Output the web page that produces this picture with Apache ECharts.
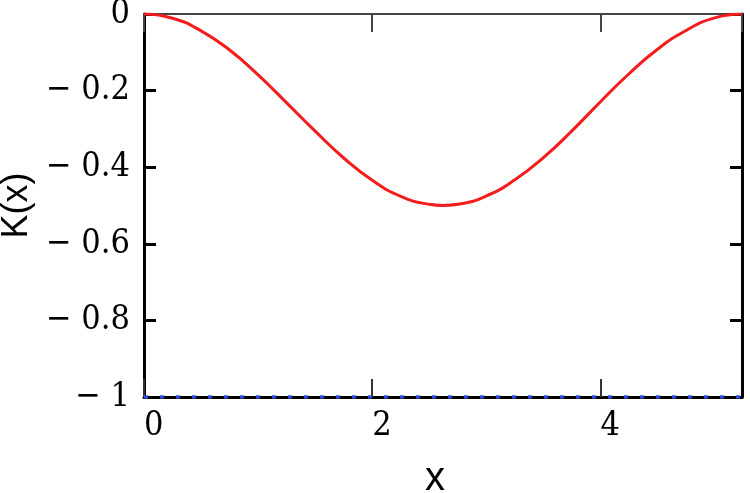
<!DOCTYPE html>
<html>
<head>
<meta charset="utf-8">
<script src="https://cdn.jsdelivr.net/npm/echarts@6/dist/echarts.min.js"></script>
<style>
  html, body { margin: 0; padding: 0; background: #fff; }
  #chart { width: 750px; height: 493px; }
</style>
</head>
<body>
<div id="chart"></div>
<script>
// K(x) curve
var xs = [0, 0.25, 0.5, 0.75, 1.0, 1.25, 1.5, 1.75, 2.0, 2.25, 2.5, 2.62, 2.75, 3.0, 3.25, 3.5, 3.75, 4.0, 4.25, 4.5, 4.75, 5.0, 5.24];
var ks = [0, -0.011, -0.044, -0.094, -0.159, -0.232, -0.306, -0.376, -0.434, -0.476, -0.497, -0.5, -0.497, -0.475, -0.433, -0.375, -0.305, -0.229, -0.156, -0.092, -0.043, -0.010, 0];
// lower bound line
var baseX = [0, 5.24];
var baseY = [-1, -1];
var xTicks = [0, 2, 4];

var curve = xs.map(function (x, i) { return [x, ks[i]]; });
var base = baseX.map(function (x, i) { return [x, baseY[i]]; });

var myChart = echarts.init(document.getElementById("chart"), null, { renderer: "canvas" });
var serif = "'DejaVu Serif Condensed', 'DejaVu Serif', serif";
var option = {
  animation: false,
  backgroundColor: "#fff",
  grid: { left: 144, right: 8, top: 14, bottom: 96, outerBoundsMode: "none", containLabel: false },
  xAxis: [
    {
      type: "value",
      min: 0,
      max: 5.24,
      interval: 2,
      position: "bottom",
      name: "x",
      nameLocation: "middle",
      nameGap: 62,
      nameTextStyle: { fontFamily: "Liberation Sans", fontSize: 40, color: "#000", padding: [0, 16, 0, 0] },
      axisLine: { show: true, onZero: false, lineStyle: { color: "#000", width: 3 } },
      axisTick: { show: true, inside: true, length: 18, lineStyle: { color: "#333", width: 2 } },
      axisLabel: {
        showMaxLabel: false,
        align: "left",
        margin: 12,
        fontFamily: serif,
        fontSize: 34,
        color: "#000",
        formatter: function (v) { return xTicks.indexOf(v) >= 0 ? String(v) : ""; }
      },
      splitLine: { show: false }
    },
    {
      type: "value",
      min: 0,
      max: 5.24,
      interval: 2,
      position: "top",
      axisLine: { show: true, onZero: false, lineStyle: { color: "#444", width: 2 } },
      axisTick: { show: true, inside: true, length: 18, lineStyle: { color: "#444", width: 2 } },
      axisLabel: { show: false },
      splitLine: { show: false }
    }
  ],
  yAxis: [
    {
      type: "value",
      min: -1,
      max: 0,
      interval: 0.2,
      position: "left",
      name: "K(x)",
      nameLocation: "middle",
      nameGap: 101,
      nameRotate: 90,
      nameTextStyle: { fontFamily: "Liberation Sans", fontSize: 36, color: "#000" },
      axisLine: { show: true, onZero: false, lineStyle: { color: "#000", width: 3 } },
      axisTick: { show: true, inside: true, length: 12, lineStyle: { color: "#000", width: 3 } },
      axisLabel: {
        margin: 14,
        padding: [8, 0, 0, 0],
        fontFamily: serif,
        fontSize: 34,
        color: "#000",
        formatter: function (v) {
          var a = +Math.abs(v).toFixed(1);
          return v < 0 ? "\u2212 " + a : "0";
        }
      },
      splitLine: { show: false }
    },
    {
      type: "value",
      min: -1,
      max: 0,
      interval: 0.2,
      position: "right",
      axisLine: { show: true, onZero: false, lineStyle: { color: "#000", width: 3 } },
      axisTick: { show: true, inside: true, length: 12, lineStyle: { color: "#000", width: 3 } },
      axisLabel: { show: false },
      splitLine: { show: false }
    }
  ],
  series: [
    {
      name: "bound",
      type: "line",
      data: base,
      showSymbol: false,
      z: 3,
      lineStyle: { color: "#2f4fd8", width: 3.5, type: [4, 12] }
    },
    {
      name: "K(x)",
      type: "line",
      data: curve,
      smooth: true,
      showSymbol: false,
      z: 4,
      lineStyle: { color: "#f41c1c", width: 3 }
    }
  ]
};
myChart.setOption(option);
</script>
</body>
</html>
